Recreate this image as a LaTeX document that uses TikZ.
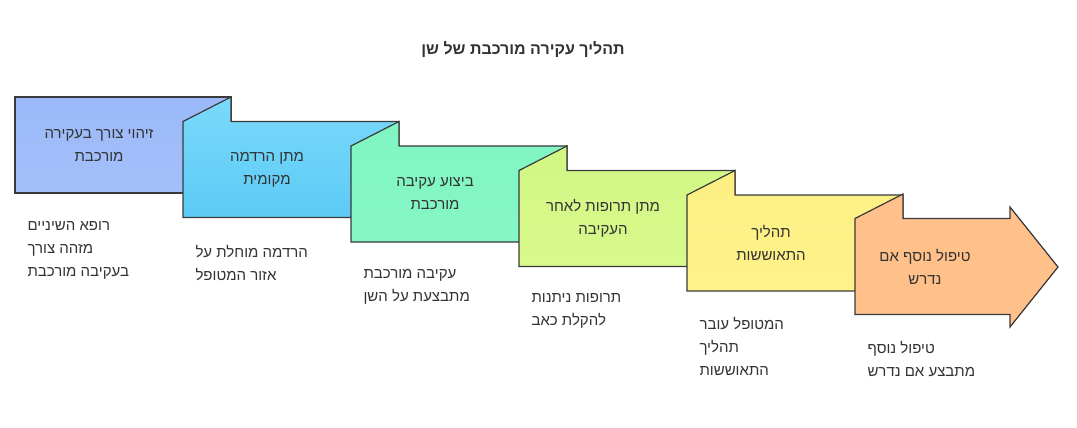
\documentclass[tikz,border=0pt]{standalone}
\usepackage{fontspec}
\setmainfont{Liberation Sans}
\newfontfamily\hebfont[Script=Hebrew]{Liberation Sans}
\TeXXeTstate=1
\usetikzlibrary{positioning, calc}
\definecolor{edgegray}{HTML}{3A3A3A}
\definecolor{textgray}{HTML}{333333}
\definecolor{lastfill}{HTML}{FFC08A}
\newcommand{\heb}[1]{\beginR #1\endR}
\tikzstyle{stepshape} = [draw=edgegray, line width=1.2pt, line join=miter]
\tikzstyle{steptext} = [align=center, font=\hebfont\fontsize{15}{23}\selectfont, text=textgray]
\tikzstyle{desctext} = [align=left, anchor=north west, font=\hebfont\fontsize{15}{23}\selectfont, text=textgray]
\begin{document}
\begin{tikzpicture}[x=1pt, y=-1pt]
\useasboundingbox (0,0) rectangle (1077,428);
\node[font=\hebfont\bfseries\fontsize{16}{20}\selectfont, text=textgray] (title) at (523,50) {\heb{תהליך עקירה מורכבת של שן}};
% boxes
\foreach \i/\cola/\colb in {0/9BB9F9/A4C0FA, 1/7AD9FA/5CCBF6, 2/80F5C2/85F7C6, 3/D2F784/D8F98C, 4/FDEF82/FEF28A}{
  \pgfmathsetmacro{\L}{15+168*\i}
  \pgfmathsetmacro{\T}{97+24.5*\i}
  \definecolor{ca}{HTML}{\cola}\definecolor{cb}{HTML}{\colb}
  \ifnum\i=0
    \shade[top color=ca, bottom color=cb] (\L,\T) rectangle (\L+216,\T+96);
    \draw[stepshape] (\L,\T) rectangle (\L+216,\T+96);
  \else
    \shade[top color=ca, bottom color=cb] (\L,\T+96) -- (\L,\T) -- (\L+48,\T-24.5) -- (\L+48,\T) -- (\L+216,\T) -- (\L+216,\T+96) -- cycle;
    \draw[stepshape] (\L,\T+96) -- (\L,\T) -- (\L+48,\T-24.5) -- (\L+48,\T) -- (\L+216,\T) -- (\L+216,\T+96) -- cycle;
  \fi
}
% final arrow
\fill[lastfill] (855,218.5) -- (903,194) -- (903,218.5) -- (1010,218.5) -- (1010,207) -- (1058,267) -- (1010,327) -- (1010,314.5) -- (855,314.5) -- cycle;
\draw[stepshape] (855,314.5) -- (855,218.5) -- (903,194) -- (903,218.5) -- (1010,218.5) -- (1010,207) -- (1058,267) -- (1010,327) -- (1010,314.5) -- cycle;
% labels
\node[steptext] (s1) at (99,145) {\heb{זיהוי צורך בעקירה}\\\heb{מורכבת}};
\node[steptext] (s2) at (267,169.5) {\heb{מתן הרדמה}\\\heb{מקומית}};
\node[steptext] (s3) at (435,194) {\heb{ביצוע עקיבה}\\\heb{מורכבת}};
\node[steptext] (s4) at (603,218.5) {\heb{מתן תרופות לאחר}\\\heb{העקיבה}};
\node[steptext] (s5) at (771,243) {\heb{תהליך}\\\heb{התאוששות}};
\node[steptext] (s6) at (925,266.5) {\heb{טיפול נוסף אם}\\\heb{נדרש}};
% descriptions
\node[desctext] (d1) at (24,218) {\heb{רופא השיניים}\\\heb{מזהה צורך}\\\heb{בעקיבה מורכבת}};
\node[desctext] (d2) at (192,242) {\heb{הרדמה מוחלת על}\\\heb{אזור המטופל}};
\node[desctext] (d3) at (360,266) {\heb{עקיבה מורכבת}\\\heb{מתבצעת על השן}};
\node[desctext] (d4) at (528,290) {\heb{תרופות ניתנות}\\\heb{להקלת כאב}};
\node[desctext] (d5) at (696,314) {\heb{המטופל עובר}\\\heb{תהליך}\\\heb{התאוששות}};
\node[desctext] (d6) at (864,338) {\heb{טיפול נוסף}\\\heb{מתבצע אם נדרש}};
\end{tikzpicture}
\end{document}
